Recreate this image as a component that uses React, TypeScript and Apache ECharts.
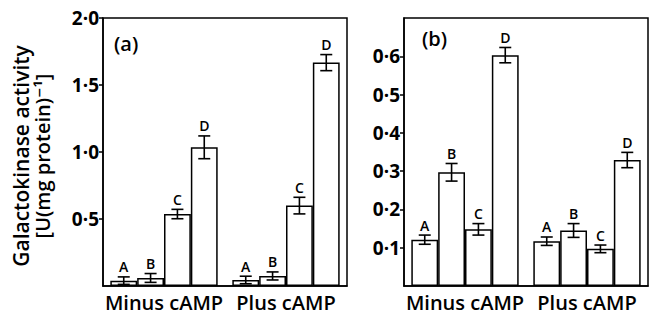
import React, { useEffect, useRef } from "react";
import * as echarts from "echarts";

const categories = ["Minus cAMP", "Plus cAMP"];
const letters = ["A", "B", "C", "D"];

// Panel (a)
const aMinus = [0.04, 0.06, 0.537, 1.035];
const aPlus = [0.045, 0.075, 0.6, 1.667];
const aMinusErr = [0.028, 0.033, 0.035, 0.085];
const aPlusErr = [0.028, 0.03, 0.062, 0.06];
const aTicks = [0.5, 1.0, 1.5, 2.0];

// Panel (b)
const bMinus = [0.121, 0.297, 0.148, 0.603];
const bPlus = [0.117, 0.145, 0.097, 0.329];
const bMinusErr = [0.012, 0.023, 0.015, 0.02];
const bPlusErr = [0.011, 0.018, 0.01, 0.02];
const bTicks = [0.1, 0.2, 0.3, 0.4, 0.5, 0.6];

const FONT = "'Open Sans', 'DejaVu Sans', sans-serif";
const CAT_GAP = 0.12;

function fmt(v: number) {
  return v.toFixed(1).replace(".", "·");
}

function buildPanel(idx: number, minus: number[], plus: number[], minusErr: number[], plusErr: number[]) {
  const bars = letters.map((l, i) => ({
    type: "bar",
    name: l,
    xAxisIndex: idx,
    yAxisIndex: idx,
    barGap: "0%",
    barCategoryGap: CAT_GAP * 100 + "%",
    data: [minus[i], plus[i]],
    itemStyle: { color: "#fff", borderColor: "#000", borderWidth: 1.5 },
    silent: true,
  }));
  const errData: any[] = [];
  [minus, plus].forEach((vals, c) => {
    const errs = c === 0 ? minusErr : plusErr;
    vals.forEach((v, i) => {
      errData.push([c, v, errs[i], i]);
    });
  });
  const err = {
    type: "custom",
    xAxisIndex: idx,
    yAxisIndex: idx,
    silent: true,
    z: 5,
    data: errData,
    renderItem: (params: any, api: any) => {
      const c = api.value(0);
      const v = api.value(1);
      const e = api.value(2);
      const i = api.value(3);
      const band = api.size([1, 0])[0];
      const bw = (band * (1 - CAT_GAP)) / 4;
      const center = api.coord([c, v]);
      const x = center[0] + (i - 1.5) * bw;
      const yTop = api.coord([c, v + e])[1];
      const yBot = api.coord([c, v - e])[1];
      const cap = 6;
      const ls = { stroke: "#000", lineWidth: 1.6 };
      return {
        type: "group",
        children: [
          { type: "line", shape: { x1: x, y1: yTop, x2: x, y2: yBot }, style: ls },
          { type: "line", shape: { x1: x - cap, y1: yTop, x2: x + cap, y2: yTop }, style: ls },
          { type: "line", shape: { x1: x - cap, y1: yBot, x2: x + cap, y2: yBot }, style: ls },
          {
            type: "text",
            x: x,
            y: yTop - 3,
            style: {
              text: letters[i],
              fill: "#000",
              font: `600 14px ${FONT}`,
              textAlign: "center",
              textVerticalAlign: "bottom",
            },
          },
        ],
      };
    },
  };
  return [...bars, err];
}

export default function App() {
  const ref = useRef<HTMLDivElement>(null);
  useEffect(() => {
    if (!ref.current) return;
    const chart = echarts.init(ref.current, null, { renderer: "svg" });
    const yAxisCommon = (max: number, interval: number, ticks: number[], idx: number) => ({
      type: "value",
      gridIndex: idx,
      min: 0,
      max,
      interval,
      splitLine: { show: false },
      axisLine: { show: true, lineStyle: { color: "#000", width: 1.5 } },
      axisTick: { show: true, customValues: ticks, length: 4, lineStyle: { color: "#000", width: 1.5 } },
      axisLabel: {
        customValues: ticks,
        formatter: (v: number) => fmt(v),
        color: "#000",
        fontFamily: FONT,
        fontSize: 19,
        fontWeight: 700,
        margin: 4,
      },
    });
    const xAxisCommon = (idx: number) => ({
      type: "category",
      gridIndex: idx,
      data: categories,
      axisLine: { show: true, lineStyle: { color: "#000", width: 1.5 } },
      axisTick: { show: false },
      axisLabel: { color: "#000", fontFamily: FONT, fontSize: 20, fontWeight: 600, margin: 6, interval: 0 },
    });
    chart.setOption({
      animation: false,
      backgroundColor: "#fff",
      grid: [
        { left: 103, top: 18, width: 244, height: 268, show: true, borderColor: "#000", borderWidth: 1.5, backgroundColor: "transparent" },
        { left: 404, top: 18, width: 244, height: 268, show: true, borderColor: "#000", borderWidth: 1.5, backgroundColor: "transparent" },
      ],
      xAxis: [xAxisCommon(0), xAxisCommon(1)],
      yAxis: [yAxisCommon(2.0, 0.5, aTicks, 0), yAxisCommon(0.7, 0.1, bTicks, 1)],
      series: [
        ...buildPanel(0, aMinus, aPlus, aMinusErr, aPlusErr),
        ...buildPanel(1, bMinus, bPlus, bMinusErr, bPlusErr),
      ],
      graphic: [
        {
          type: "text",
          x: 21,
          y: 156,
          rotation: Math.PI / 2,
          style: {
            text: "Galactokinase activity",
            font: `600 21px ${FONT}`,
            fill: "#000",
            textAlign: "center",
            textVerticalAlign: "middle",
          },
        },
        {
          type: "text",
          x: 42,
          y: 156,
          rotation: Math.PI / 2,
          style: {
            text: "[U(mg protein)⁻¹]",
            font: `600 20px ${FONT}`,
            fill: "#000",
            textAlign: "center",
            textVerticalAlign: "middle",
          },
        },
        {
          type: "text",
          x: 114,
          y: 43,
          style: { text: "(a)", font: `600 20px ${FONT}`, fill: "#000", textVerticalAlign: "middle" },
        },
        {
          type: "text",
          x: 422,
          y: 38,
          style: { text: "(b)", font: `600 20px ${FONT}`, fill: "#000", textVerticalAlign: "middle" },
        },
      ],
    });
    return () => chart.dispose();
  }, []);
  return <div ref={ref} style={{ position: "fixed", left: 0, top: 0, width: 649, height: 316 }} />;
}
